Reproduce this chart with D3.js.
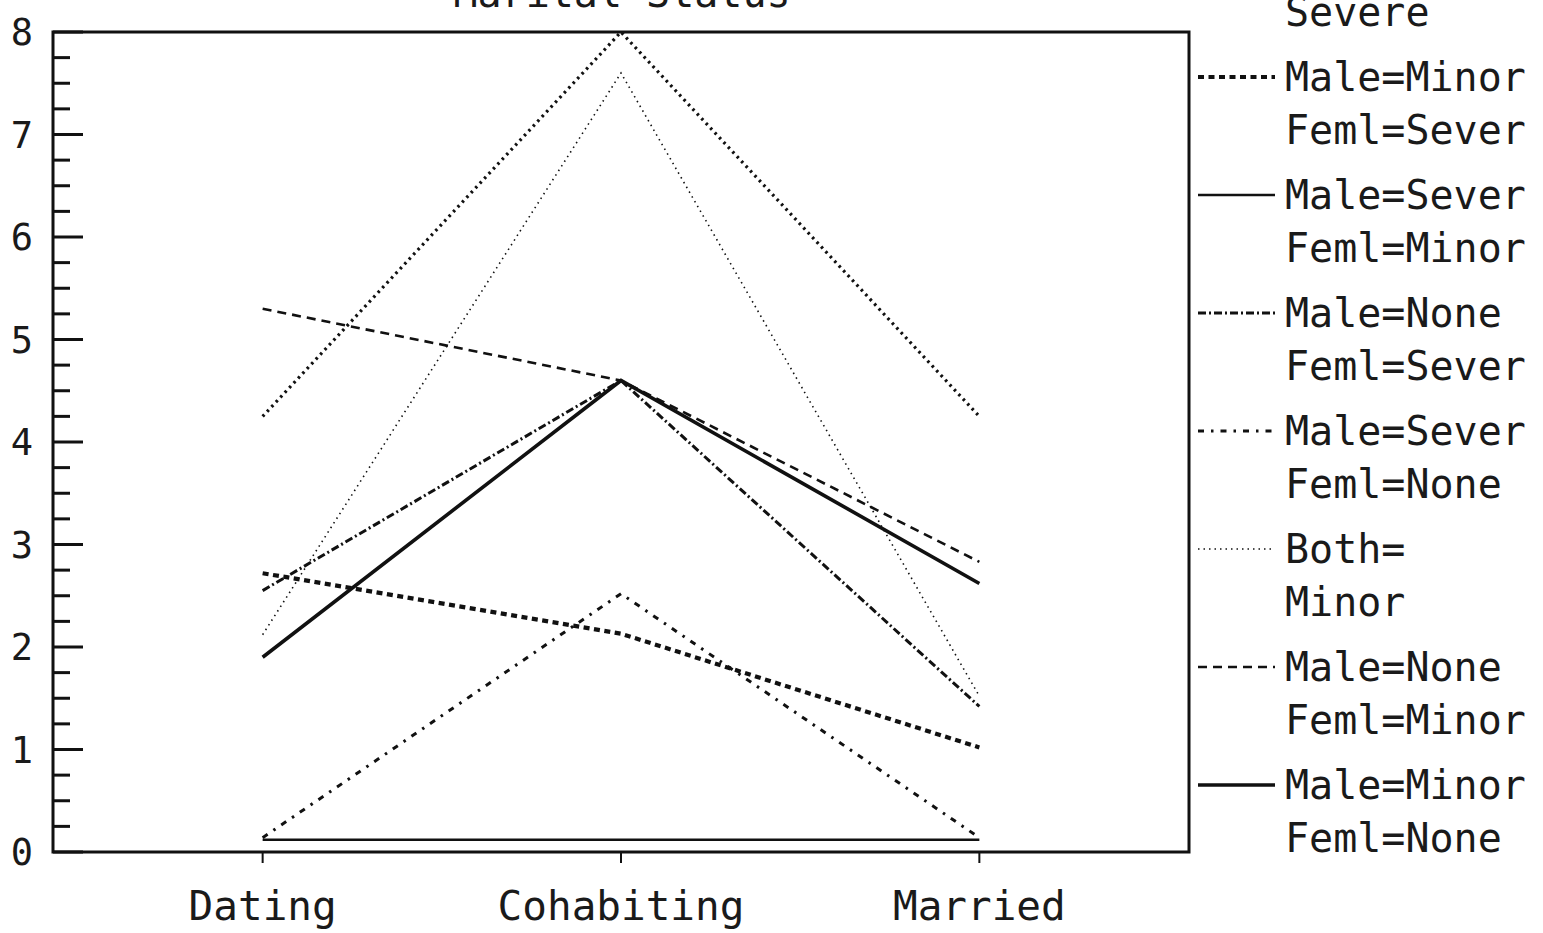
<!DOCTYPE html>
<html>
<head>
<meta charset="utf-8">
<style>
body { margin: 0; background: #fff; }
svg text { font-family: "DejaVu Sans Mono", monospace; fill: #1a1a1a; }
</style>
</head>
<body>
<svg id="chart" width="1543" height="933"></svg>
<script src="https://d3js.org/d3.v7.min.js"></script>
<script>
// marital status categories
var categories = ["Dating", "Cohabiting", "Married"];

// one array per group (Dating, Cohabiting, Married)
var bothSevere      = [4.25, 8.0, 4.25];
var maleMinFemSev   = [2.72, 2.13, 1.02];
var maleSevFemMin   = [0.12, 0.12, 0.12];
var maleNoneFemSev  = [2.55, 4.6, 1.42];
var maleSevFemNone  = [0.14, 2.52, 0.14];
var bothMinor       = [2.12, 7.6, 1.52];
var maleNoneFemMin  = [5.3, 4.6, 2.83];
var maleMinFemNone  = [1.9, 4.6, 2.62];

var legendLabels = [
  ["Both=", "Severe"],
  ["Male=Minor", "Feml=Sever"],
  ["Male=Sever", "Feml=Minor"],
  ["Male=None", "Feml=Sever"],
  ["Male=Sever", "Feml=None"],
  ["Both=", "Minor"],
  ["Male=None", "Feml=Minor"],
  ["Male=Minor", "Feml=None"]
];
var yTicks = [0, 1, 2, 3, 4, 5, 6, 7, 8];

var series = [bothSevere, maleMinFemSev, maleSevFemMin, maleNoneFemSev,
              maleSevFemNone, bothMinor, maleNoneFemMin, maleMinFemNone];

// line styles, same order as series
var styles = [
  {w: 3.2, dash: "2.5,4"},
  {w: 4.2, dash: "6,4.5"},
  {w: 2.4, dash: null},
  {w: 3,   dash: "8,3,2,3"},
  {w: 3,   dash: "6,7,2.5,7"},
  {w: 1.6, dash: "1.5,4"},
  {w: 2.6, dash: "9,6"},
  {w: 3.6, dash: null}
];

var svg = d3.select("#chart");
var plotL = 53, plotR = 1189, plotT = 32, plotB = 852;

var x = d3.scalePoint().domain(categories).range([plotL, plotR]).padding(0.585);
var y = d3.scaleLinear().domain([0, 8]).range([plotB, plotT]);

// title, mostly cut off at top edge
svg.append("text")
  .attr("x", 622).attr("y", 7)
  .attr("text-anchor", "middle")
  .style("font-size", "40px")
  .text("Marital Status");

// frame
svg.append("rect")
  .attr("x", plotL).attr("y", plotT)
  .attr("width", plotR - plotL).attr("height", plotB - plotT)
  .attr("fill", "none").attr("stroke", "#111").attr("stroke-width", 3);

// y ticks: major + minor inside the frame
var minor = d3.range(0, 8.001, 0.25);
svg.append("g").selectAll("line")
  .data(minor)
  .enter().append("line")
  .attr("x1", plotL)
  .attr("x2", d => plotL + (Math.abs(d - Math.round(d)) < 0.01 ? 30 : 17))
  .attr("y1", d => y(d)).attr("y2", d => y(d))
  .attr("stroke", "#111").attr("stroke-width", 3);

svg.append("g").selectAll("text")
  .data(yTicks)
  .enter().append("text")
  .attr("x", 22).attr("y", d => y(d) + 13)
  .attr("text-anchor", "middle")
  .style("font-size", "37px")
  .text(d => d);

// x ticks and labels
svg.append("g").selectAll("line")
  .data(categories)
  .enter().append("line")
  .attr("x1", d => x(d)).attr("x2", d => x(d))
  .attr("y1", plotB).attr("y2", plotB + 11)
  .attr("stroke", "#111").attr("stroke-width", 2);

svg.append("g").selectAll("text")
  .data(categories)
  .enter().append("text")
  .attr("x", d => x(d)).attr("y", 920)
  .attr("text-anchor", "middle")
  .style("font-size", "41px")
  .text(d => d);

// lines
var line = d3.line().x((d, i) => x(categories[i])).y(d => y(d));
svg.append("g").selectAll("path")
  .data(series)
  .enter().append("path")
  .attr("d", line)
  .attr("fill", "none")
  .attr("stroke", "#111")
  .attr("stroke-width", (d, i) => styles[i].w)
  .attr("stroke-dasharray", (d, i) => styles[i].dash)
  .attr("stroke-linecap", "butt");

// legend
var legTop = -41, legStep = 118;
var leg = svg.append("g").selectAll("g")
  .data(legendLabels)
  .enter().append("g")
  .attr("transform", (d, i) => "translate(0," + (legTop + i * legStep) + ")");

leg.append("line")
  .attr("x1", 1198).attr("x2", 1275)
  .attr("y1", 0).attr("y2", 0)
  .attr("stroke", "#111")
  .attr("stroke-width", (d, i) => styles[i].w)
  .attr("stroke-dasharray", (d, i) => styles[i].dash);

leg.append("text")
  .attr("x", 1285).attr("y", 14)
  .style("font-size", "40px")
  .text(d => d[0]);
leg.append("text")
  .attr("x", 1285).attr("y", 67)
  .style("font-size", "40px")
  .text(d => d[1]);
</script>
</body>
</html>
